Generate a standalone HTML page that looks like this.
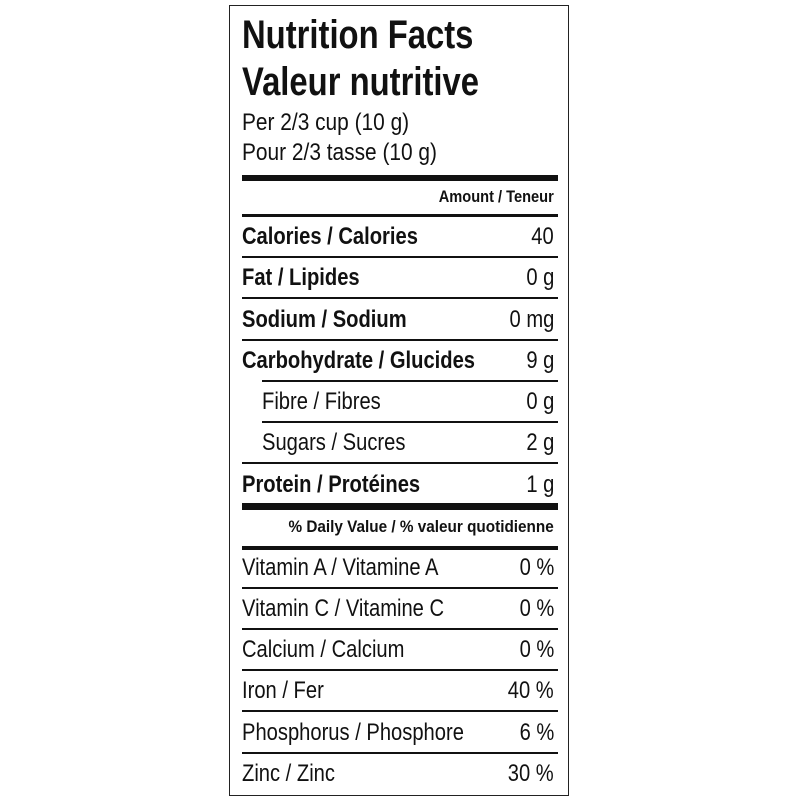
<!DOCTYPE html>
<html><head><meta charset="utf-8"><style>
body{margin:0;width:800px;height:800px;background:#fff;position:relative;overflow:hidden;font-family:"Liberation Sans",sans-serif;color:#111}
.box{position:absolute;left:229px;top:5px;width:338px;height:789px;border:1.5px solid #222}
.t{position:absolute;line-height:1;white-space:nowrap;transform:scaleX(0.84);transform-origin:left top}
.r{position:absolute;line-height:1;white-space:nowrap;transform:scaleX(0.84);transform-origin:right top;right:246px}
.b{font-weight:bold}
.h{position:absolute;left:242px;width:316px;background:#111}
</style></head><body>
<div class="box"></div>
<div class="t b" style="left:242px;top:15px;font-size:40px;transform:scaleX(0.82)">Nutrition Facts</div>
<div class="t b" style="left:242px;top:62px;font-size:40px;transform:scaleX(0.82)">Valeur nutritive</div>
<div class="t" style="left:242px;top:111px;font-size:24px;transform:scaleX(0.87)">Per 2/3 cup (10 g)</div>
<div class="t" style="left:242px;top:141px;font-size:24px;transform:scaleX(0.87)">Pour 2/3 tasse (10 g)</div>
<div class="h" style="top:175px;height:6px"></div>
<div class="r b" style="top:188px;font-size:17px;transform:scaleX(0.86)">Amount / Teneur</div>
<div class="h" style="top:214px;height:3px"></div>

<div class="t b" style="left:242px;top:225px;font-size:24px">Calories / Calories</div><div class="r" style="top:225px;font-size:24px">40</div>
<div class="h" style="top:256px;height:1.5px"></div>
<div class="t b" style="left:242px;top:266px;font-size:24px">Fat / Lipides</div><div class="r" style="top:266px;font-size:24px">0 g</div>
<div class="h" style="top:297px;height:1.5px"></div>
<div class="t b" style="left:242px;top:308px;font-size:24px">Sodium / Sodium</div><div class="r" style="top:308px;font-size:24px">0 mg</div>
<div class="h" style="top:339px;height:1.5px"></div>
<div class="t b" style="left:242px;top:349px;font-size:24px">Carbohydrate / Glucides</div><div class="r" style="top:349px;font-size:24px">9 g</div>
<div class="h" style="top:380px;height:1.5px;left:262px;width:296px"></div>
<div class="t" style="left:262px;top:390px;font-size:24px">Fibre / Fibres</div><div class="r" style="top:390px;font-size:24px">0 g</div>
<div class="h" style="top:421px;height:1.5px;left:262px;width:296px"></div>
<div class="t" style="left:262px;top:431px;font-size:24px">Sugars / Sucres</div><div class="r" style="top:431px;font-size:24px">2 g</div>
<div class="h" style="top:462px;height:1.5px"></div>
<div class="t b" style="left:242px;top:473px;font-size:24px">Protein / Protéines</div><div class="r" style="top:473px;font-size:24px">1 g</div>
<div class="h" style="top:503px;height:7px"></div>
<div class="r b" style="top:518px;font-size:17px;transform:scaleX(0.9)">% Daily Value / % valeur quotidienne</div>
<div class="h" style="top:546px;height:3.5px"></div>

<div class="t" style="left:242px;top:556px;font-size:24px">Vitamin A / Vitamine A</div><div class="r" style="top:556px;font-size:24px">0 %</div>
<div class="h" style="top:587px;height:1.5px"></div>
<div class="t" style="left:242px;top:597px;font-size:24px">Vitamin C / Vitamine C</div><div class="r" style="top:597px;font-size:24px">0 %</div>
<div class="h" style="top:628px;height:1.5px"></div>
<div class="t" style="left:242px;top:638px;font-size:24px">Calcium / Calcium</div><div class="r" style="top:638px;font-size:24px">0 %</div>
<div class="h" style="top:669px;height:1.5px"></div>
<div class="t" style="left:242px;top:679px;font-size:24px">Iron / Fer</div><div class="r" style="top:679px;font-size:24px">40 %</div>
<div class="h" style="top:710px;height:1.5px"></div>
<div class="t" style="left:242px;top:721px;font-size:24px">Phosphorus / Phosphore</div><div class="r" style="top:721px;font-size:24px">6 %</div>
<div class="h" style="top:752px;height:1.5px"></div>
<div class="t" style="left:242px;top:762px;font-size:24px">Zinc / Zinc</div><div class="r" style="top:762px;font-size:24px">30 %</div>
</body></html>
